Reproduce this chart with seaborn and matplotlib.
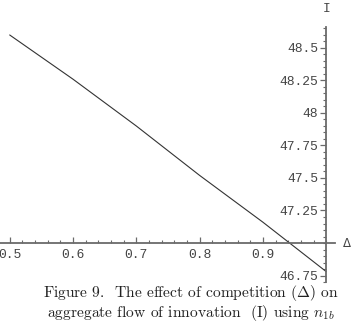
import numpy as np
import pandas as pd
import matplotlib
matplotlib.use("Agg")
import matplotlib.pyplot as plt
import seaborn as sns
from matplotlib.ticker import FixedLocator, FixedFormatter

# values
delta = [0.5, 0.55, 0.6, 0.65, 0.7, 0.75, 0.8, 0.85, 0.9, 0.95, 1.0]
flow = [48.60, 48.43, 48.26, 48.08, 47.90, 47.71, 47.52, 47.34, 47.16, 46.97, 46.78]

x_ticks = [0.5, 0.6, 0.7, 0.8, 0.9]
x_labels = ["0.5", "0.6", "0.7", "0.8", "0.9"]
y_ticks = [46.75, 47.25, 47.5, 47.75, 48.0, 48.25, 48.5]
y_labels = ["46.75", "47.25", "47.5", "47.75", "48", "48.25", "48.5"]

caption = ["Figure 9.  The effect of competition ($\\Delta$) on",
           "aggregate flow of innovation  (I) using $n_{1b}$"]

sns.set_style("white")
plt.rcParams["mathtext.fontset"] = "cm"
mono = "Liberation Mono"
ink = "#444444"
axis_col = "#6a6a6a"

df = pd.DataFrame({"delta": delta, "I": flow})

fig = plt.figure(figsize=(3.53, 3.30), dpi=100)
ax = fig.add_axes([0, 45 / 330, 1, 285 / 330])
ax.patch.set_alpha(0)

sns.lineplot(data=df, x="delta", y="I", ax=ax, color="#333333", linewidth=0.8)

ax.set_xlim(0.4847, 1.0423)
ax.set_ylim(46.677, 48.869)

# Mathematica style crossing axes
ax.spines["top"].set_visible(False)
ax.spines["right"].set_visible(False)
ax.spines["left"].set_position(("data", 1.0))
ax.spines["bottom"].set_position(("data", 47.0))
ax.spines["left"].set_bounds(46.70, 48.66)
ax.spines["bottom"].set_bounds(0.4847, 1.014)
for s in ["left", "bottom"]:
    ax.spines[s].set_color(axis_col)
    ax.spines[s].set_linewidth(1.3)
    ax.spines[s].set_zorder(3)

# minor ticks only along the drawn part of each axis
x_minor = np.round(np.arange(0.50, 1.001, 0.02), 2)
y_minor = np.round(np.arange(46.70, 48.651, 0.05), 2)

ax.xaxis.set_major_locator(FixedLocator(x_ticks))
ax.xaxis.set_major_formatter(FixedFormatter(x_labels))
ax.xaxis.set_minor_locator(FixedLocator(x_minor))
ax.yaxis.set_major_locator(FixedLocator(y_ticks))
ax.yaxis.set_major_formatter(FixedFormatter(y_labels))
ax.yaxis.set_minor_locator(FixedLocator(y_minor))

ax.tick_params(axis="x", which="major", direction="in", length=4, width=0.9,
               color=axis_col, labelsize=9.4, labelcolor=ink, pad=4)
ax.tick_params(axis="x", which="minor", direction="in", length=2.2, width=0.8, color=axis_col)
ax.tick_params(axis="y", which="major", direction="out", length=4, width=0.9,
               color=axis_col, labelsize=9.4, labelcolor=ink, pad=2)
ax.tick_params(axis="y", which="minor", direction="out", length=2.2, width=0.8, color=axis_col)
ax.tick_params(axis="both", which="both", bottom=True, left=True)
for lab in ax.get_xticklabels() + ax.get_yticklabels():
    lab.set_family(mono)

ax.set_xlabel("")
ax.set_ylabel("")
ax.text(1.0, 48.80, "I", family=mono, fontsize=9.4, color=ink, ha="center", va="center")
ax.text(1.033, 47.0, "\u0394", family="DejaVu Sans", fontsize=8.5, color=ink,
        ha="center", va="center")

fig.text(0.541, 1 - 293 / 330, caption[0], family="cmr10", fontsize=11.2,
         ha="center", va="center", color="#222222")
fig.text(0.541, 1 - 313 / 330, caption[1], family="cmr10", fontsize=11.2,
         ha="center", va="center", color="#222222")

fig.savefig("out.png", dpi=100)
